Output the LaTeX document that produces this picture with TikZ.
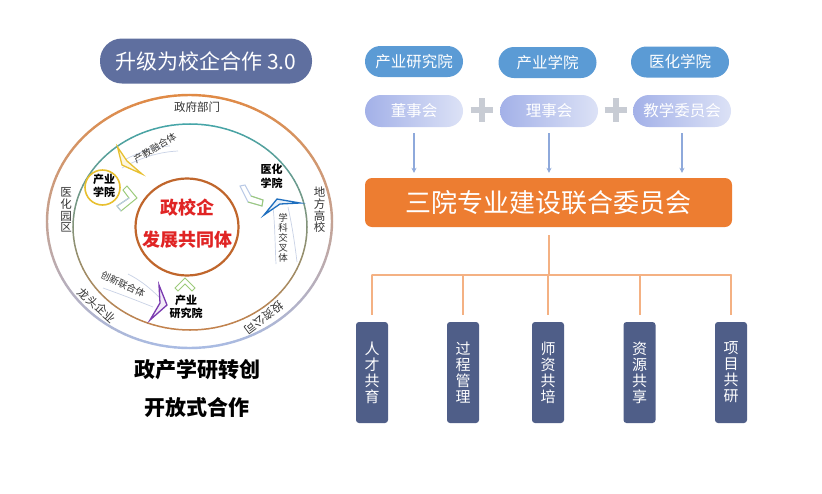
\documentclass[tikz,border=0pt]{standalone}
\usepackage{fontspec}
\setmainfont{Noto Sans CJK SC}
\usetikzlibrary{arrows.meta,calc}
\definecolor{slate}{HTML}{5F6F9F}
\definecolor{pillblue}{HTML}{5B9BD5}
\definecolor{lavL}{HTML}{A3B1E8}
\definecolor{lavR}{HTML}{DCE2F6}
\definecolor{plusgray}{HTML}{C8CCD4}
\definecolor{arrblue}{HTML}{8EA9DB}
\definecolor{bigorange}{HTML}{ED7D31}
\definecolor{treeor}{HTML}{F4B183}
\definecolor{navybox}{HTML}{4F5E88}
\definecolor{ringO}{HTML}{E08A45}
\definecolor{ringB}{HTML}{A9BBE3}
\definecolor{midT}{HTML}{45A5A8}
\definecolor{midB}{HTML}{C4824C}
\definecolor{innerC}{HTML}{C0662C}
\definecolor{redc}{HTML}{E02424}
\definecolor{yel}{HTML}{E8C030}
\definecolor{chevG}{HTML}{9CCB7A}
\definecolor{chevB}{HTML}{B9C9E6}
\definecolor{planeB}{HTML}{1F6FBF}
\definecolor{purp}{HTML}{7A3AB0}
\definecolor{faint}{HTML}{C9D2E6}
\definecolor{ringtxt}{HTML}{333333}
\tikzset{
  titlepill/.style={fill=slate, text=white, rounded corners=22pt, minimum width=212pt, minimum height=45pt, inner sep=0pt, font=\fontsize{21}{25}\selectfont},
  toppill/.style={fill=pillblue, text=white, rounded corners=15.5pt, minimum width=98pt, minimum height=31pt, inner sep=0pt, font=\fontsize{15.5}{18}\selectfont},
  lowpill/.style={left color=lavL, right color=lavR, text=white, rounded corners=16pt, minimum width=98pt, minimum height=32pt, inner sep=0pt, font=\fontsize{15.5}{18}\selectfont},
  bigbox/.style={fill=bigorange, text=white, rounded corners=7pt, minimum width=367pt, minimum height=49pt, inner sep=0pt, font=\fontsize{26}{30}\selectfont},
  leafbox/.style={fill=navybox, text=white, rounded corners=3pt, minimum width=32pt, minimum height=101pt, inner sep=0pt, align=center, font=\fontsize{15}{16}\selectfont},
  arr/.style={draw=arrblue, line width=1.1pt, -{Stealth[length=5pt,width=5pt]}, shorten <=6pt, shorten >=5pt},
  tree/.style={draw=treeor, line width=2pt},
  plusbar/.style={draw=plusgray, line width=6pt},
  ringlab/.style={text=ringtxt, inner sep=0pt, align=center, font=\fontsize{11.5}{11.7}\selectfont},
  curvlab/.style={text=ringtxt, inner sep=0pt, align=center, font=\fontsize{9.5}{10}\selectfont},
  collab/.style={text=black, inner sep=0pt, align=center, font=\bfseries\fontsize{11}{13.5}\selectfont},
  redlab/.style={text=redc, inner sep=0pt, font=\bfseries\fontsize{18}{20}\selectfont},
  bottomlab/.style={text=black, inner sep=0pt, font=\bfseries\fontsize{21}{24}\selectfont},
  faintline/.style={draw=faint, line width=0.7pt},
}
\begin{document}
\begin{tikzpicture}[x=1pt,y=-1pt]
\useasboundingbox[fill=white] (0,0) rectangle (822,493);

% ---------------- left: circle diagram ----------------
\node[titlepill] (title) at (206,61) {升级为校企合作 3.0};

% outer ring (orange top -> light blue bottom)
\foreach \t in {0,3,...,357}{
  \pgfmathsetmacro\w{50-50*sin(\t+1.5)}
  \draw[line width=2.4pt, line cap=round, color=ringO!\w!ringB]
    ({189.5+142.5*cos(\t)},{221.5+126.5*sin(\t)}) -- ({189.5+142.5*cos(\t+3)},{221.5+126.5*sin(\t+3)});
}
% middle ring (teal top -> brown bottom)
\foreach \t in {0,3,...,357}{
  \pgfmathsetmacro\w{50-50*sin(\t+1.5)}
  \draw[line width=1.5pt, line cap=round, color=midT!\w!midB]
    ({190+117*cos(\t)},{227+103*sin(\t)}) -- ({190+117*cos(\t+3)},{227+103*sin(\t+3)});
}
% inner circle
\draw[innerC, line width=2.2pt] (187,227) ellipse [x radius=51.5, y radius=48.5];
\node[redlab] (core1) at (187,208) {政校企};
\node[redlab] (core2) at (187,240) {发展共同体};

% yellow circle
\draw[yel, line width=1.6pt] (102.5,187.5) circle [radius=17.5];
\node[collab] (cy) at (104,186) {产业\\学院};
\node[collab] (cm) at (271.5,176.5) {医化\\学院};
\node[collab] (cr) at (186,307) {产业\\研究院};

% ring labels
\node[ringlab] (gov) at (197,107) {政府部门};
\node[ringlab] (park) at (66,210) {医\\化\\园\\区};
\node[ringlab] (univ) at (319.5,210) {地\\方\\高\\校};
\node[ringlab, rotate=-42] (lead) at (97,305.5) {龙头企业};
\node[ringlab, rotate=-143] (inv) at (264,318) {投资公司};

% faint guide lines
\draw[faintline] (122,168) .. controls (140,158) and (158,152) .. (178,151);
\draw[faintline] (124,160) .. controls (140,152) and (155,146) .. (170,146);
\draw[faintline] (273,207) .. controls (275,225) and (275,245) .. (276,264);
\draw[faintline] (288,207) .. controls (292,225) and (295,245) .. (297,262);
\draw[faintline] (128,274) .. controls (140,280) and (150,288) .. (160,298);
\draw[faintline] (103,288) .. controls (120,294) and (138,301) .. (153,307);

% curved labels
\node[curvlab, rotate=31] (c1) at (155,148) {产教融合体};
\node[curvlab] (c2) at (283,238) {学\\科\\交\\叉\\体};
\node[curvlab, rotate=-25.5] (c3) at (123,284) {创新联合体};

% chevrons
\draw[yel, line width=1.3pt, line join=miter, fill=yel!15] (117.5,147) -- (122,165) -- (142,174) -- (127,161) -- cycle;
\draw[chevG, line width=1pt, fill=white] (127,186) -- (137,198) -- (121,211) -- (117,206) -- (129,198) -- (123,190) -- cycle;
\draw[chevB, line width=1pt] (121,211) -- (117,206) -- (129,198);
\draw[chevB, line width=1pt, fill=white] (240,186) -- (245,185) -- (251,196) -- (263,200) -- (262,206) -- (248,202) -- cycle;
\draw[chevG, line width=1pt] (251,196) -- (263,200) -- (262,206) -- (248,202);
\draw[planeB, line width=1.3pt, line join=miter, fill=planeB!10] (264,215) -- (277,199) -- (300,203) -- (280,204) -- cycle;
\draw[chevG, line width=1pt, fill=white] (175,288) -- (185,278) -- (195,288) -- (192,291) -- (185,284) -- (178,291) -- cycle;
\draw[purp, line width=1.3pt, line join=miter, fill=purp!10] (159,285) -- (167,305) -- (150,320) -- (160,303) -- cycle;

% bottom-left text
\node[bottomlab] (bl1) at (197,370) {政产学研转创};
\node[bottomlab] (bl2) at (197,408) {开放式合作};

% ---------------- right: organisation chart ----------------
\node[toppill] (p1) at (414,61.5) {产业研究院};
\node[toppill] (p2) at (547.5,62.5) {产业学院};
\node[toppill] (p3) at (680,62) {医化学院};

\node[lowpill] (r1) at (414,111) {董事会};
\node[lowpill] (r2) at (549,111) {理事会};
\node[lowpill] (r3) at (682,111) {教学委员会};

% plus signs
\coordinate (plusA) at ($(r1.east)!0.5!(r2.west)+(0,-1)$);
\coordinate (plusB) at ($(r2.east)!0.5!(r3.west)+(0,-1)$);
\foreach \pc in {plusA,plusB}{
  \draw[plusbar] ($(\pc)+(-11,0)$) -- ($(\pc)+(11,0)$);
  \draw[plusbar] ($(\pc)+(0,-12)$) -- ($(\pc)+(0,12)$);
}

\node[bigbox] (big) at (548.5,202.5) {三院专业建设联合委员会};

\draw[arr] (r1.south) -- (r1.south |- big.north);
\draw[arr] (r2.south) -- (r2.south |- big.north);
\draw[arr] (r3.south) -- (r3.south |- big.north);

\node[leafbox] (b1) at (372,372.5) {人\\才\\共\\育};
\node[leafbox] (b2) at (463,372.5) {过\\程\\管\\理};
\node[leafbox] (b3) at (548,372.5) {师\\资\\共\\培};
\node[leafbox] (b4) at (639.5,372.5) {资\\源\\共\\享};
\node[leafbox] (b5) at (731,372.5) {项\\目\\共\\研};

\coordinate (jn) at (548.5,275);
\draw[tree, shorten <=8pt] (big.south) -- (big.south |- jn);
\draw[tree, line cap=round] (b1.north |- jn) -- (b5.north |- jn);
\foreach \b in {b1,b2,b3,b4,b5}{
  \draw[tree, shorten >=7pt] (\b.north |- jn) -- (\b.north);
}
\end{tikzpicture}
\end{document}
